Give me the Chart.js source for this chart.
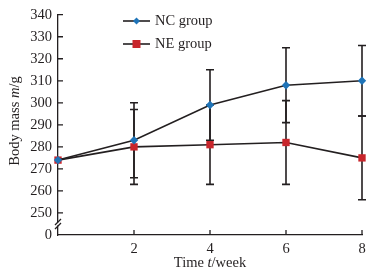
<!DOCTYPE html>
<html><head><meta charset="utf-8">
<script src="https://cdn.jsdelivr.net/npm/chart.js@4/dist/chart.umd.min.js"></script>
<style>html,body{margin:0;padding:0;background:#fff}#wrap{width:380px;height:275px}</style>
</head><body><div id="wrap"><canvas id="c" width="380" height="275"></canvas></div>
<script>
const weeks = [0, 2, 4, 6, 8];
const ncValues = [274, 283, 299, 308, 310];
const ncErrors = [0, 17, 16, 17, 16];
const neValues = [274, 280, 281, 282, 275];
const neErrors = [0, 17, 18, 19, 19];
const seriesNames = ['NC group', 'NE group'];
const yTickValues = [240, 250, 260, 270, 280, 290, 300, 310, 320, 330, 340];
const yTickLabels = ['0', '250', '260', '270', '280', '290', '300', '310', '320', '330', '340'];
const xTickLabels = ['', '2', '4', '6', '8'];

const FONT = '"Liberation Serif", "DejaVu Serif", serif';
const INK = '#231f20';

const errorBars = {
  id: 'errorBars',
  beforeDatasetsDraw(chart) {
    const ctx = chart.ctx, ys = chart.scales.y;
    ctx.save();
    ctx.strokeStyle = INK; ctx.lineWidth = 1.6;
    chart.data.datasets.forEach((ds, i) => {
      const meta = chart.getDatasetMeta(i);
      ds.errors.forEach((e, j) => {
        if (!e) return;
        const x = meta.data[j].x;
        const v = ds.data[j].y;
        const yt = ys.getPixelForValue(v + e), yb = ys.getPixelForValue(v - e);
        ctx.beginPath();
        ctx.moveTo(x, yt); ctx.lineTo(x, yb);
        ctx.moveTo(x - 4, yt); ctx.lineTo(x + 4, yt);
        ctx.moveTo(x - 4, yb); ctx.lineTo(x + 4, yb);
        ctx.stroke();
      });
    });
    ctx.restore();
  }
};

const decor = {
  id: 'decor',
  afterDraw(chart) {
    const ctx = chart.ctx, xs = chart.scales.x, ys = chart.scales.y;
    const a = chart.chartArea;
    ctx.save();
    ctx.strokeStyle = INK; ctx.lineWidth = 1.3;
    // inward ticks
    ctx.beginPath();
    yTickValues.forEach(v => { if (v === 240) return; const y = ys.getPixelForValue(v); ctx.moveTo(a.left, y); ctx.lineTo(a.left + 5, y); });
    weeks.forEach(w => { if (w === 0) return; const x = xs.getPixelForValue(w); ctx.moveTo(x, a.bottom); ctx.lineTo(x, a.bottom - 5); });
    ctx.stroke();
    // axis break
    const yb = ys.getPixelForValue(245);
    ctx.fillStyle = '#fff';
    ctx.fillRect(a.left - 2, yb - 1.5, 4, 3);
    ctx.beginPath();
    ctx.moveTo(a.left - 3, yb + 1); ctx.lineTo(a.left + 3, yb - 5);
    ctx.moveTo(a.left - 3, yb + 5); ctx.lineTo(a.left + 3, yb - 1);
    ctx.stroke();
    // axis titles
    ctx.fillStyle = INK;
    ctx.textBaseline = 'middle';
    const part = (t, it) => { ctx.font = (it ? 'italic ' : '') + '14.5px ' + FONT; return ctx.measureText(t).width; };
    const xParts = [['Time ', false], ['t', true], ['/week', false]];
    let tw = xParts.reduce((s, p) => s + part(p[0], p[1]), 0);
    let cx = 210 - tw / 2;
    ctx.textAlign = 'left';
    xParts.forEach(p => { part(p[0], p[1]); ctx.fillText(p[0], cx, 263); cx += ctx.measureText(p[0]).width; });
    const yParts = [['Body mass ', false], ['m', true], ['/g', false]];
    tw = yParts.reduce((s, p) => s + part(p[0], p[1]), 0);
    ctx.save();
    ctx.translate(15, 121); ctx.rotate(-Math.PI / 2);
    cx = -tw / 2;
    yParts.forEach(p => { part(p[0], p[1]); ctx.fillText(p[0], cx, 0); cx += ctx.measureText(p[0]).width; });
    ctx.restore();
    // legend
    chart.data.datasets.forEach((ds, i) => {
      const y = 21 + i * 23;
      ctx.strokeStyle = INK; ctx.lineWidth = 1.6;
      ctx.beginPath(); ctx.moveTo(123, y); ctx.lineTo(150, y); ctx.stroke();
      ctx.fillStyle = ds.pointBackgroundColor;
      if (i === 0) {
        ctx.beginPath(); ctx.moveTo(136.5, y - 3.5); ctx.lineTo(140, y); ctx.lineTo(136.5, y + 3.5); ctx.lineTo(133, y); ctx.closePath(); ctx.fill();
      } else {
        ctx.fillRect(132.5, y - 4, 8, 8);
      }
      ctx.fillStyle = INK;
      ctx.font = '14.5px ' + FONT;
      ctx.textAlign = 'left';
      ctx.fillText(ds.label, 155, y);
    });
    ctx.restore();
  }
};

new Chart(document.getElementById('c'), {
  type: 'line',
  data: {
    datasets: [
      { label: seriesNames[0], data: weeks.map((w, i) => ({ x: w, y: ncValues[i] })), errors: ncErrors,
        borderColor: INK, borderWidth: 1.6, pointStyle: 'rectRot', pointRadius: 4.2,
        pointBackgroundColor: '#1f74b8', pointBorderColor: '#1f74b8', pointBorderWidth: 0, clip: false },
      { label: seriesNames[1], data: weeks.map((w, i) => ({ x: w, y: neValues[i] })), errors: neErrors,
        borderColor: INK, borderWidth: 1.6, pointStyle: 'rect', pointRadius: 5.2,
        pointBackgroundColor: '#c8262c', pointBorderColor: '#c8262c', pointBorderWidth: 0, clip: false }
    ]
  },
  options: {
    responsive: false, animation: false,
    layout: { padding: { top: 7, right: 18, left: 0, bottom: 0 } },
    plugins: { legend: { display: false }, tooltip: { enabled: false } },
    scales: {
      x: { type: 'linear', min: 0, max: 8,
        afterBuildTicks(s) { s.ticks = weeks.map(v => ({ value: v })); },
        afterFit(s) { s.height = 40; },
        grid: { display: false, drawTicks: false, tickLength: 0 }, border: { display: true, color: INK, width: 1.3 },
        ticks: { padding: 5, color: INK, font: { family: FONT, size: 14.5 },
          callback: (v, i) => xTickLabels[weeks.indexOf(v)] } },
      y: { type: 'linear', min: 240, max: 340,
        afterBuildTicks(s) { s.ticks = yTickValues.map(v => ({ value: v })); },
        afterFit(s) { s.width = 58; },
        grid: { display: false, drawTicks: false, tickLength: 0 }, border: { display: true, color: INK, width: 1.3 },
        ticks: { padding: 6, color: INK, font: { family: FONT, size: 14.5 },
          callback: (v) => yTickLabels[yTickValues.indexOf(v)] } }
    }
  },
  plugins: [errorBars, decor]
});
</script></body></html>
